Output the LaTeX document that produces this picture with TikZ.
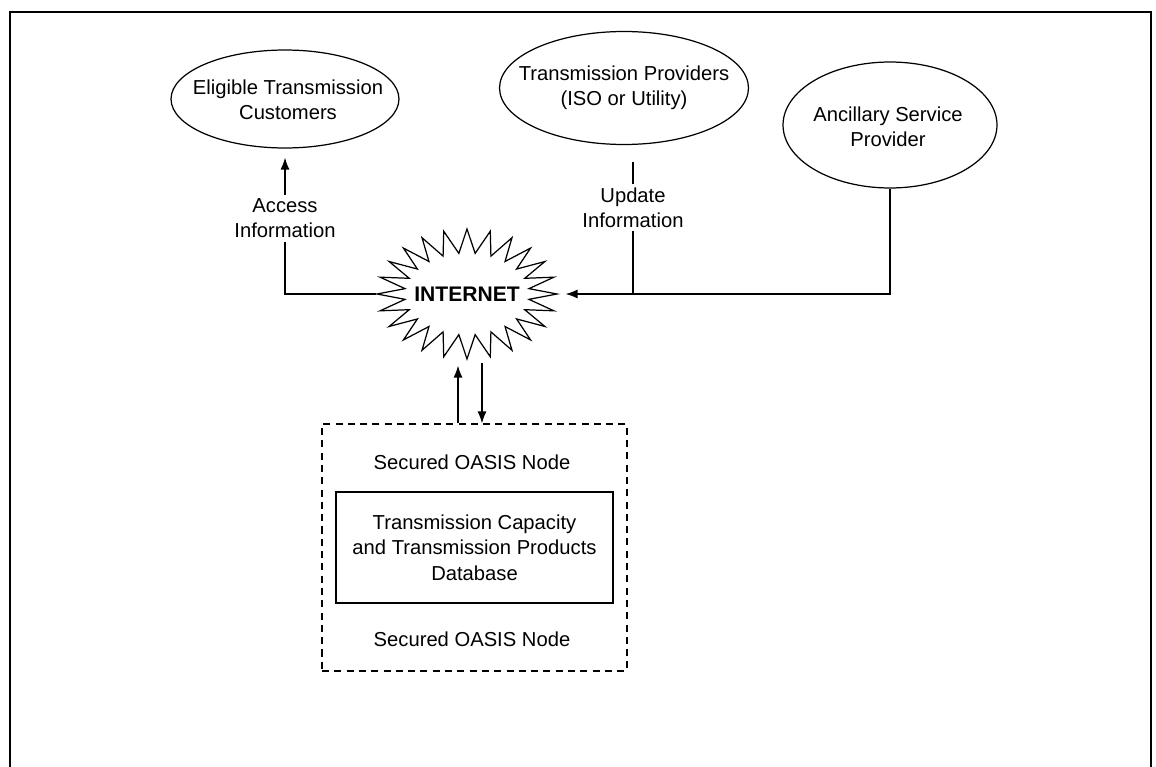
\documentclass[tikz,border=0pt]{standalone}
\usepackage{fontspec}
\setmainfont{Liberation Sans}
\usetikzlibrary{shapes.geometric,arrows.meta}

\begin{document}
\begin{tikzpicture}[x=0.02cm,y=-0.02cm,line width=0.7pt,
  oval/.style={draw,ellipse,inner sep=0pt},
  lbl/.style={font=\fontsize{11.5}{14.5}\selectfont,align=center},
  tag/.style={lbl,fill=white,inner sep=2pt},
  arr/.style={-{Latex[length=2.4mm,width=1.8mm]}}]
\useasboundingbox (0,0) rectangle (1156,767);

% cornice
\draw (10,767) -- (10,12) -- (1151,12) -- (1151,767);

% ovali in alto
\node[oval,minimum width=4.56cm,minimum height=1.96cm] (cust) at (285,99) {};
\node[lbl] at (288,100) {Eligible Transmission\\Customers};
\node[oval,minimum width=4.98cm,minimum height=2.26cm] (tp) at (624,88) {};
\node[lbl] at (tp) {Transmission Providers\\(ISO or Utility)};
\node[oval,minimum width=4.28cm,minimum height=2.52cm] (asp) at (890,125) {};
\node[lbl] at (888,127) {Ancillary Service\\Provider};

% internet (stella a 24 punte)
\node[ellipse,inner sep=0pt,minimum width=3.6cm,minimum height=2.6cm,
  font=\bfseries\fontsize{12}{14}\selectfont] (net) at (467,294) {INTERNET};
\draw[shift={(net.center)}] (0:1.8cm and 1.3cm)
  \foreach \a in {0,15,...,345} {-- (\a+7.5:1.25cm and 0.82cm) -- (\a+15:1.8cm and 1.3cm)} -- cycle;

% collegamenti
\coordinate (jn) at (633,294);
\draw[arr,shorten >=0.18cm] (net.west) -| node[tag,pos=0.76] {Access\\Information} (cust.south);
\draw[shorten <=0.34cm] (tp.south -| jn) -- node[tag,pos=0.42] {Update\\Information} (jn);
\draw[arr,shorten >=0.16cm] (asp.south) |- (net.east);

% nodo OASIS
\node[draw,dash pattern=on 4pt off 3pt,minimum width=6.1cm,minimum height=4.94cm] (oasis) at (474.5,547.5) {};
\node[lbl] at (472,462) {Secured OASIS Node};
\node[draw,lbl,minimum width=5.54cm,minimum height=2.22cm] (db) at (474.5,547.5)
  {Transmission Capacity\\and Transmission Products\\Database};
\node[lbl] at (472,639) {Secured OASIS Node};

\draw[arr,shorten >=0.12cm] ([xshift=-0.33cm]oasis.north) -- ([xshift=-0.33cm]oasis.north |- net.south);
\draw[arr,shorten <=0.06cm] ([xshift=0.15cm]oasis.north |- net.south) -- ([xshift=0.15cm]oasis.north);
\end{tikzpicture}
\end{document}
